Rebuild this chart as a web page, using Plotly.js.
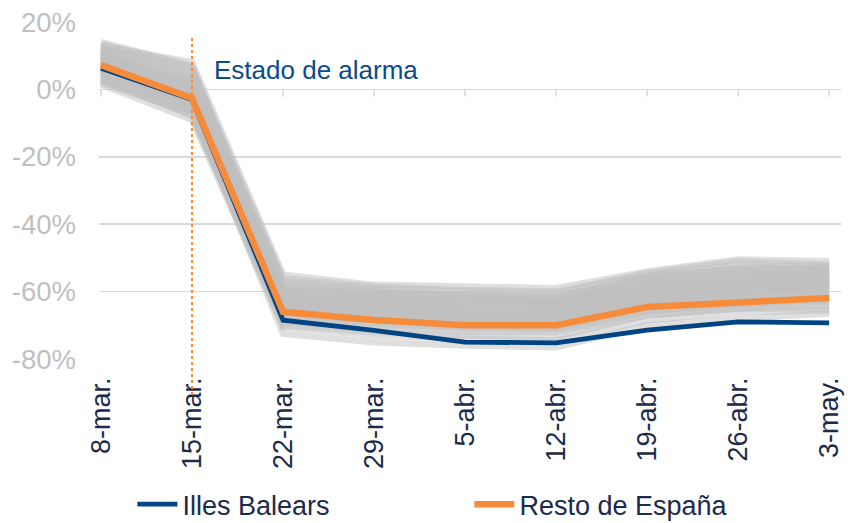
<!DOCTYPE html>
<html>
<head>
<meta charset="utf-8">
<script src="https://cdn.plot.ly/plotly-3.0.1.min.js"></script>
<style>html,body{margin:0;padding:0;background:#fff;}#chart{width:848px;height:523px;}</style>
</head>
<body>
<div id="chart"></div>
<script>
const weeks = ['8-mar.', '15-mar.', '22-mar.', '29-mar.', '5-abr.', '12-abr.', '19-abr.', '26-abr.', '3-may.'];

const illesBalears = [6.3, -3.0, -68.5, -71.5, -75.0, -75.2, -71.4, -69.0, -69.3];
const restoEspana  = [7.2, -2.6, -66.0, -68.4, -70.0, -70.0, -64.6, -63.4, -61.9];

const provinces = [
  [13.0, 8.0, -55.0, -58.0, -58.5, -59.0, -54.0, -50.5, -51.0],
  [12.0, 6.0, -57.0, -59.0, -60.0, -60.5, -55.0, -52.0, -52.5],
  [11.0, 3.0, -58.0, -60.0, -61.0, -61.5, -56.0, -53.0, -53.0],
  [10.0, 1.0, -59.0, -61.0, -62.0, -62.5, -57.0, -54.0, -54.0],
  [9.0, 0.0, -60.0, -62.0, -63.0, -63.0, -57.5, -55.0, -54.5],
  [14.0, 7.0, -60.5, -62.5, -63.5, -64.0, -58.0, -56.0, -55.0],
  [8.0, -1.0, -61.0, -63.0, -64.0, -64.5, -59.0, -56.5, -56.0],
  [10.5, 2.0, -61.5, -63.5, -64.5, -65.0, -59.5, -57.0, -56.5],
  [7.0, -2.0, -62.0, -64.0, -65.0, -65.5, -60.0, -58.0, -57.0],
  [9.5, -1.5, -62.5, -64.5, -65.5, -66.0, -60.5, -58.5, -57.5],
  [6.0, -3.0, -63.0, -65.0, -66.0, -66.5, -61.0, -59.0, -58.0],
  [11.5, 4.0, -63.5, -65.5, -66.5, -67.0, -61.5, -59.5, -58.5],
  [5.0, -4.0, -64.0, -66.0, -67.0, -67.5, -62.0, -60.0, -59.0],
  [8.5, 0.5, -64.5, -66.5, -67.5, -68.0, -62.5, -60.5, -59.5],
  [4.0, -5.0, -65.0, -67.0, -68.0, -68.5, -63.0, -61.0, -60.0],
  [9.0, 1.5, -65.5, -67.5, -68.5, -69.0, -63.5, -61.5, -60.5],
  [3.0, -6.0, -66.0, -68.0, -69.0, -69.5, -64.0, -62.0, -61.0],
  [7.5, -2.5, -66.5, -68.5, -69.5, -70.0, -64.5, -62.5, -61.5],
  [2.0, -7.0, -67.0, -69.0, -70.0, -70.5, -65.0, -63.0, -62.0],
  [6.5, -3.5, -67.5, -69.5, -70.5, -71.0, -65.5, -63.5, -62.5],
  [1.5, -9.0, -70.0, -72.0, -73.0, -73.5, -67.0, -65.0, -64.0],
  [5.5, -6.0, -72.5, -75.0, -76.0, -76.5, -70.0, -68.0, -66.5],
  [12.5, 5.0, -58.5, -60.5, -61.5, -62.0, -55.5, -53.5, -53.5],
  [10.0, 2.5, -59.5, -61.5, -62.5, -63.0, -56.5, -54.5, -55.5],
  [3.5, -8.0, -68.0, -70.0, -71.0, -71.5, -66.0, -64.0, -63.0],
  [7.0, -4.5, -60.0, -62.0, -62.5, -63.0, -58.0, -55.0, -55.0],
  [11.0, 0.0, -62.0, -63.0, -64.0, -64.0, -58.5, -56.0, -56.0],
  [4.5, -5.5, -64.0, -65.0, -66.0, -66.0, -60.0, -58.0, -58.0],
  [8.0, -1.0, -61.0, -64.0, -66.0, -67.0, -61.0, -59.0, -57.0],
  [6.0, -3.0, -63.0, -66.0, -68.0, -68.0, -63.0, -60.0, -59.0],
  [9.0, 3.0, -57.0, -60.0, -62.0, -63.0, -58.0, -55.5, -54.0],
  [2.5, -7.5, -69.0, -71.0, -72.0, -72.0, -67.0, -65.0, -65.0],
  [13.5, 6.5, -56.0, -58.5, -59.5, -60.0, -54.5, -51.0, -52.0],
  [5.0, -4.0, -65.0, -68.0, -69.0, -69.0, -62.0, -60.0, -60.0],
  [10.0, 1.0, -61.0, -63.0, -65.0, -65.0, -59.0, -57.0, -57.0],
  [7.5, -2.0, -66.0, -67.0, -68.0, -69.0, -64.0, -62.0, -63.0],
  [3.0, -6.5, -70.5, -73.0, -74.0, -74.5, -68.5, -66.0, -65.5],
  [12.0, 4.5, -59.0, -61.0, -61.0, -61.5, -56.0, -53.0, -53.0],
  [6.5, -2.5, -62.5, -65.0, -66.0, -66.0, -60.0, -57.5, -56.5],
  [8.5, 0.0, -64.0, -66.0, -67.0, -67.0, -61.0, -59.0, -58.0]
];

const legendNames = ['Illes Balears', 'Resto de España'];
const eventLabel = 'Estado de alarma';
const eventWeek = '15-mar.';
const yTicks = [-80, -60, -40, -20, 0, 20];

const FONT = 'Liberation Sans, Arial, sans-serif';
const traces = [];
provinces.forEach(function (p) {
  traces.push({
    x: weeks, y: p, type: 'scatter', mode: 'lines',
    line: {color: 'rgba(192,192,192,0.5)', width: 6.5},
    showlegend: false, hoverinfo: 'skip'
  });
});
traces.push({x: weeks, y: illesBalears, type: 'scatter', mode: 'lines', name: legendNames[0],
  line: {color: '#004483', width: 4.8}});
traces.push({x: weeks, y: restoEspana, type: 'scatter', mode: 'lines', name: legendNames[1],
  line: {color: '#f68b3a', width: 6.5}});

const shapes = weeks.map(function (w) {
  return {type: 'line', xref: 'x', yref: 'y', x0: weeks.indexOf(w), x1: weeks.indexOf(w), y0: 0, y1: -2.1,
    line: {color: '#d9d9d9', width: 1.5}, layer: 'below'};
});
shapes.push({type: 'line', xref: 'x', yref: 'paper', x0: weeks.indexOf(eventWeek), x1: weeks.indexOf(eventWeek),
  y0: -0.107, y1: 0.961, line: {color: '#f68b3a', width: 2, dash: 'dot'}, layer: 'above'});

const layout = {
  width: 848, height: 523,
  margin: {l: 99, r: 7, t: 22, b: 164, autoexpand: false},
  paper_bgcolor: '#ffffff', plot_bgcolor: '#ffffff',
  font: {family: FONT},
  xaxis: {
    type: 'category', range: [-0.022, 8.13], automargin: false,
    showgrid: false, zeroline: false, showline: false, ticks: '',
    tickangle: -90, ticklabelstandoff: 12,
    tickfont: {family: FONT, size: 27, color: '#1c2b4a'}
  },
  yaxis: {
    range: [-80, 20], tickvals: yTicks, ticktext: yTicks.map(function (v) { return v + '%'; }),
    automargin: false,
    showgrid: true, gridcolor: '#d9d9d9', gridwidth: 1.5, zeroline: false, showline: false, ticks: '',
    ticklabelstandoff: 22,
    tickfont: {family: FONT, size: 27.5, color: '#bfbfbf'}
  },
  showlegend: true,
  legend: {
    orientation: 'h', x: 0.045, xanchor: 'left', y: -0.432, yanchor: 'middle',
    entrywidth: 282, entrywidthmode: 'pixels',
    font: {family: FONT, size: 27, color: '#1c2b4a'},
    bgcolor: 'rgba(0,0,0,0)', itemwidth: 40
  },
  shapes: shapes,
  annotations: [{
    x: 1.22, y: 5.8, xref: 'x', yref: 'y', xanchor: 'left', yanchor: 'middle',
    text: eventLabel, showarrow: false,
    font: {family: FONT, size: 26, color: '#0c4a8a'}
  }]
};

Plotly.newPlot('chart', traces, layout, {displayModeBar: false, staticPlot: true});
</script>
</body>
</html>
